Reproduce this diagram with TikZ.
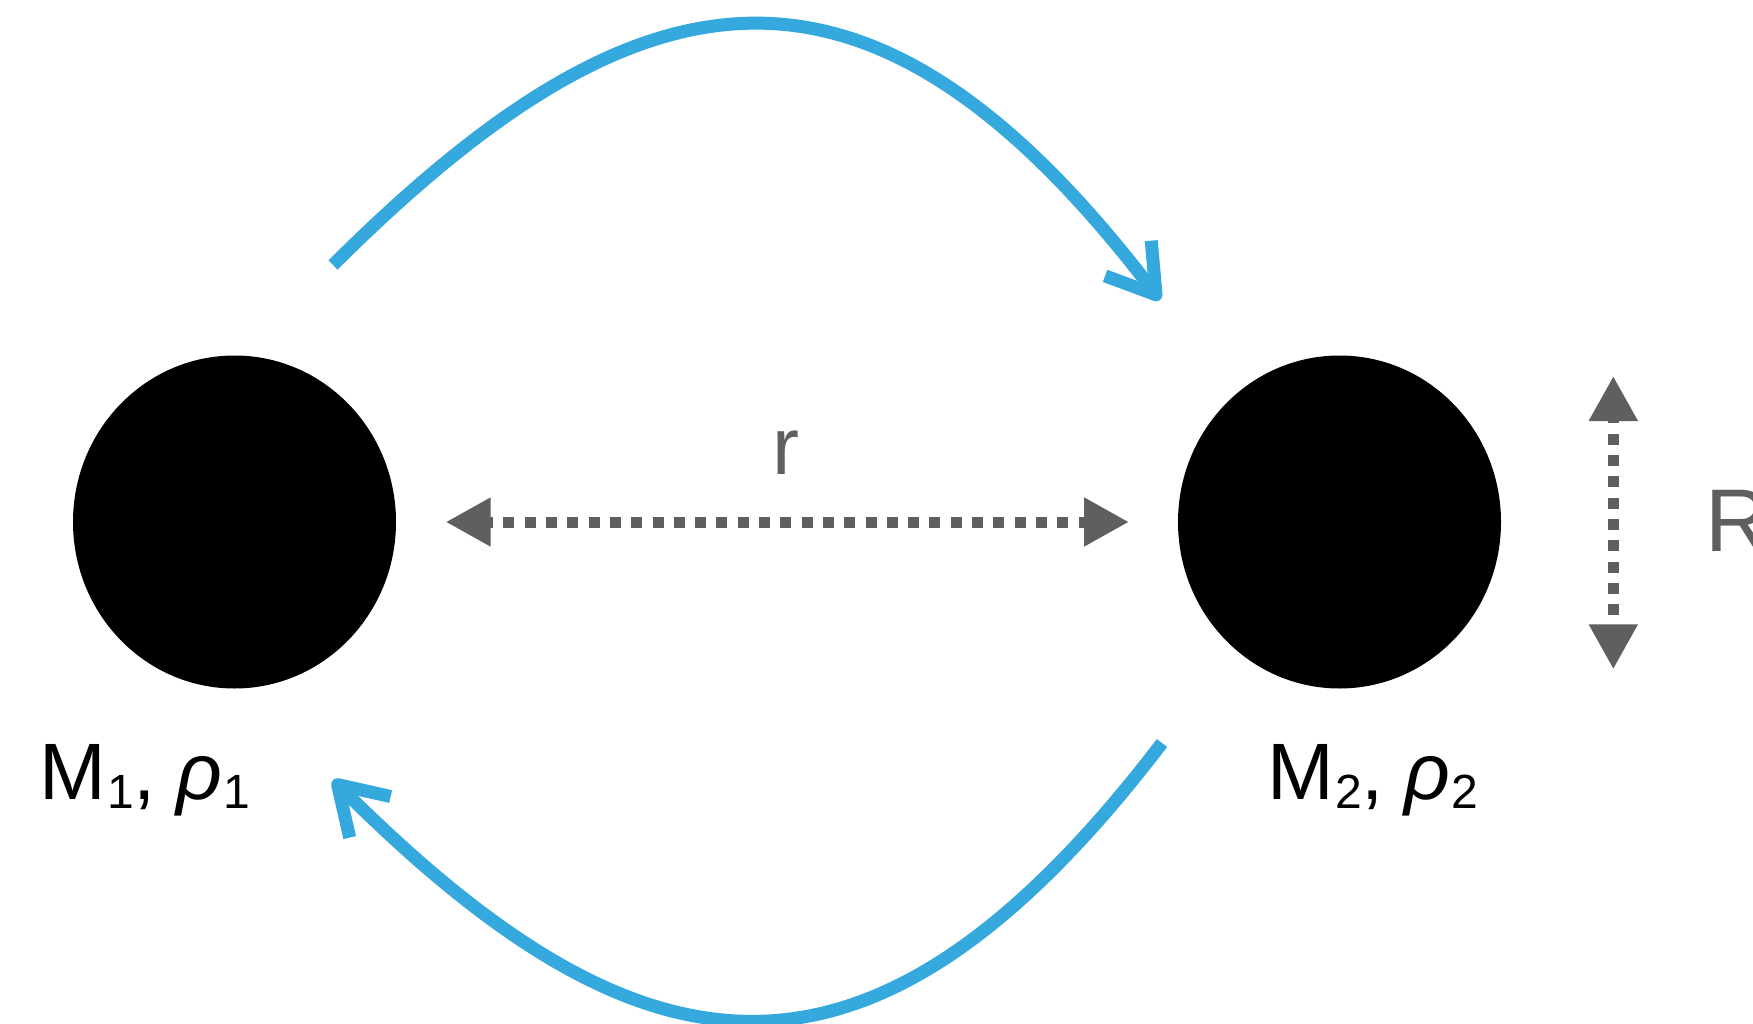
\documentclass[tikz,border=0pt]{standalone}
\usepackage{fontspec}
\setmainfont{Liberation Sans}
\usetikzlibrary{arrows.meta,shapes.geometric}
\definecolor{arcblue}{HTML}{35A8DD}
\definecolor{dimgray}{HTML}{5F5F5F}
\tikzset{
  mass/.style={ellipse, fill=black, draw=none, inner sep=0pt, minimum width=323pt, minimum height=333pt},
  flowarc/.style={draw=arcblue, line width=13pt, line cap=butt,
    -{Straight Barb[length=46pt, width=58pt, line join=round, line cap=butt]}},
  measure/.style={draw=dimgray, line width=11pt, dash pattern=on 11pt off 10.3pt, dash phase=5.8pt,
    {Triangle[length=45pt, width=46pt, fill=dimgray]}-{Triangle[length=45pt, width=46pt, fill=dimgray]}},
  biglabel/.style={anchor=base west, inner sep=0pt, font=\fontsize{80}{96}\selectfont},
  graylabel/.style={anchor=base west, inner sep=0pt, text=dimgray}
}
\newcommand{\lowsub}[1]{\kern1.5pt\raisebox{-9pt}{\fontsize{48}{48}\selectfont #1}}
\begin{document}
\begin{tikzpicture}[x=1pt, y=-1pt]
  \fill[white] (0,0) rectangle (1753,1024);
  \useasboundingbox (0,0) rectangle (1753,1024);

  % masses
  \node[mass] (m1) at (234.5,522) {};
  \node[mass] (m2) at (1339.5,522) {};

  % labels
  \node[biglabel] (l1) at (38.8,799) {M\lowsub{1},\kern-2pt{} \textit{ρ}\lowsub{1}};
  \node[biglabel] (l2) at (1266.8,799) {M\lowsub{2},\kern-2pt{} \textit{ρ}\lowsub{2}};
  \node[graylabel, font=\fontsize{81}{96}\selectfont] (rlab) at (772.7,474) {r};
  \node[graylabel, font=\fontsize{89}{100}\selectfont] (Rlab) at (1704.8,551.7) {R};

  % distance r
  \coordinate (rl) at (445.7,522);
  \coordinate (rr) at (1129,522);
  \draw[measure] (rl) -- (rr);

  % radius R
  \coordinate (Rt) at (1613.3,376);
  \coordinate (Rb) at (1613.3,669.3);
  \draw[measure] (Rt) -- (Rb);

  % arcs
  \coordinate (topS) at (333,265);
  \coordinate (topE) at (1160,300);
  \coordinate (botS) at (1162,743);
  \coordinate (botE) at (333,780);
  \draw[flowarc] (topS) .. controls (638,-39) and (867,-84) .. (topE);
  \draw[flowarc] (botS) .. controls (867,1129) and (638,1084) .. (botE);
\end{tikzpicture}
\end{document}
